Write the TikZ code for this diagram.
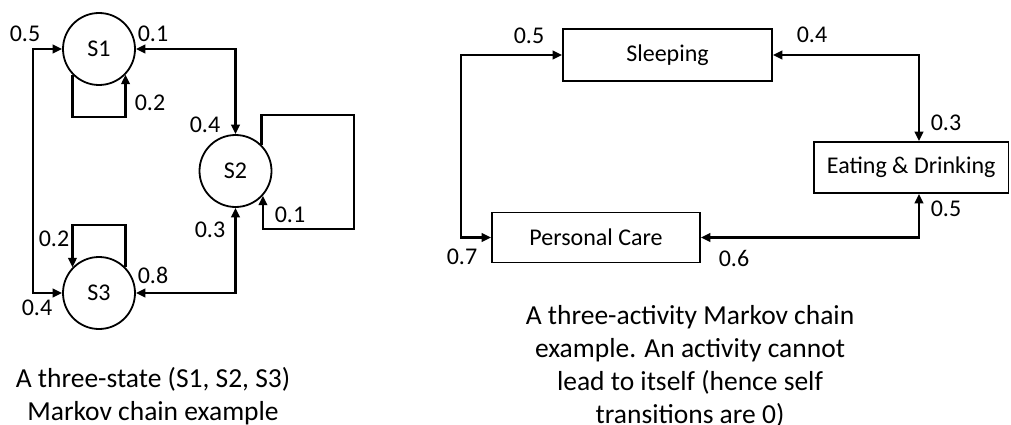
\documentclass[tikz,border=0pt]{standalone}
\usepackage{fontspec}
\setmainfont{Carlito}
\usetikzlibrary{arrows.meta}
\begin{document}
\begin{tikzpicture}[x=1pt,y=-1pt,
  state/.style={circle,draw,line width=1.8pt,minimum size=72pt,inner sep=0pt,font=\fontsize{24}{29}\selectfont},
  activity/.style={rectangle,draw,line width=1.8pt,inner sep=0pt,font=\fontsize{24}{29}\selectfont},
  prob/.style={font=\fontsize{24}{29}\selectfont,inner sep=0pt},
  caption/.style={font=\fontsize{27.5}{33}\selectfont,align=center,inner sep=0pt},
  link/.style={line width=2.2pt,-{Triangle[length=9.5pt,width=8.5pt]}},
  biLink/.style={line width=2.2pt,{Triangle[length=9.5pt,width=8.5pt]}-{Triangle[length=9.5pt,width=8.5pt]}}]
\useasboundingbox (0,0) rectangle (1011,425);

% ---- three-state chain ----
\node[state] (S1) at (99,49) {S1};
\node[state] (S2) at (235.5,171) {S2};
\node[state] (S3) at (99,293) {S3};

\coordinate (leftRail) at (33,170);
\coordinate (s1Loop) at (99,117);
\coordinate (s3Loop) at (99,225);
\coordinate (s2LoopA) at (354,115);
\coordinate (s2LoopB) at (354,229);

\draw[biLink] (S1.west) -| (leftRail) |- (S3.west);
\draw[biLink] (S1.east) -| (S2.north);
\draw[biLink] (S2.south) |- (S3.east);
\draw[link] (S1.224) |- (s1Loop) -| (S1.316);
\draw[link] (S3.44) |- (s3Loop) -| (S3.136);
\draw[link] (S2.45) |- (s2LoopA) -- (s2LoopB) -| (S2.-42);

\node[prob] (p11) at (25,34) {0.5};
\node[prob] (p12) at (153,34) {0.1};
\node[prob] (p13) at (150,103) {0.2};
\node[prob] (p21) at (205,125) {0.4};
\node[prob] (p22) at (290,215) {0.1};
\node[prob] (p23) at (210,230) {0.3};
\node[prob] (p31) at (54,239) {0.2};
\node[prob] (p32) at (153,275) {0.8};
\node[prob] (p33) at (37,308) {0.4};

\node[caption] (capA) at (153,396.5) {A three-state (S1, S2, S3)\\Markov chain example};

% ---- three-activity chain ----
\node[activity,minimum width=209pt,minimum height=52pt] (sleep) at (667.5,55) {Sleeping};
\node[activity,minimum width=194.5pt,minimum height=51pt] (eat) at (911.25,167.5) {Eating \& Drinking};
\node[activity,minimum width=208pt,minimum height=50pt] (care) at (596,237.5) {Personal Care};

\coordinate (westRail) at (461,150);
\coordinate (eastRail) at (919,0);

\draw[biLink] (sleep.west) -| (westRail) |- (care.west);
\draw[biLink] (sleep.east) -| (eat.north -| eastRail);
\draw[biLink] (eat.south -| eastRail) |- (care.east);

\node[prob] (q1) at (529,36) {0.5};
\node[prob] (q2) at (812,35) {0.4};
\node[prob] (q3) at (946,123) {0.3};
\node[prob] (q4) at (946,209) {0.5};
\node[prob] (q5) at (462,257) {0.7};
\node[prob] (q6) at (734,258) {0.6};

\node[caption] (capB) at (690,366) {A three-activity Markov chain\\example. An activity cannot\\lead to itself (hence self\\transitions are 0)};
\end{tikzpicture}
\end{document}
